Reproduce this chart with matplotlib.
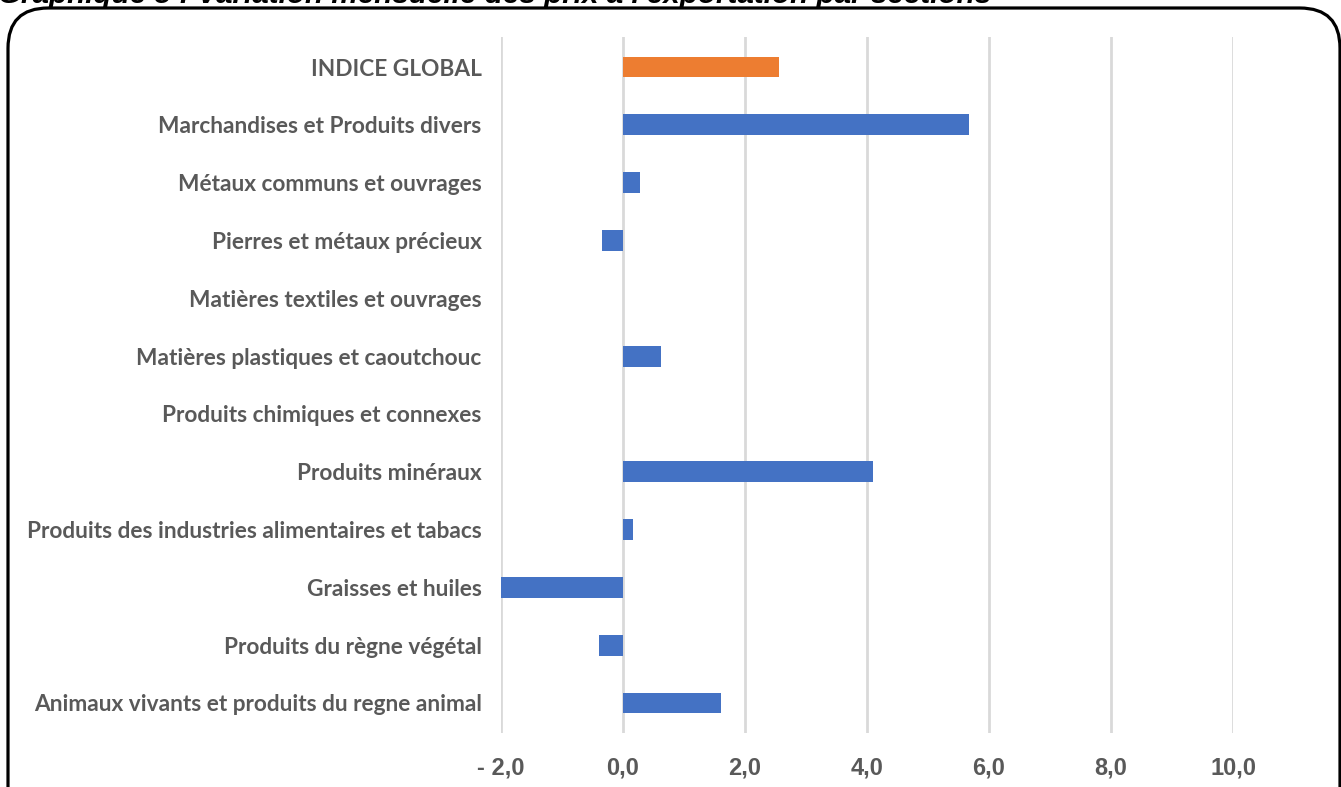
import matplotlib.pyplot as plt
from matplotlib.patches import FancyBboxPatch
import numpy as np

W, H = 1341, 787

categories = [
    "INDICE GLOBAL",
    "Marchandises et Produits divers",
    "Métaux communs et ouvrages",
    "Pierres et métaux précieux",
    "Matières textiles et ouvrages",
    "Matières plastiques et caoutchouc",
    "Produits chimiques et connexes",
    "Produits minéraux",
    "Produits des industries alimentaires et tabacs",
    "Graisses et huiles",
    "Produits du règne végétal",
    "Animaux vivants et produits du regne animal",
]
values = [2.56, 5.67, 0.28, -0.34, 0.0, 0.62, 0.0, 4.10, 0.16, -2.02, -0.40, 1.60]
colors = ["#ED7D31"] + ["#4472C4"] * 11
xticks = [-2, 0, 2, 4, 6, 8, 10]
xtick_labels = ["- 2,0", "0,0", "2,0", "4,0", "6,0", "8,0", "10,0"]

fig = plt.figure(figsize=(W / 100, H / 100), dpi=100)

# rounded frame around the chart
frame = FancyBboxPatch((8 / W, -40 / H), (1340 - 8) / W, (H - 8 + 40) / H,
                       boxstyle="round,pad=0,rounding_size=0.03",
                       transform=fig.transFigure, fill=False,
                       edgecolor="black", linewidth=2.3, mutation_aspect=W / H)
fig.patches.append(frame)

# title, cut off at the top of the image
fig.text(-2 / W, 1 - 3 / H, "Graphique 5 : Variation mensuelle des prix à l'exportation par sections",
         ha="left", va="baseline", fontsize=21.3, fontweight="bold", fontstyle="italic",
         family="Liberation Sans", color="black")

ax = fig.add_axes([501 / W, 1 - 733 / H, (1233 - 501) / W, (733 - 37) / H])
y = np.arange(len(categories))
ax.barh(y, values, height=0.36, color=colors, zorder=3)
ax.set_ylim(len(categories) - 0.5 + 0.02, -0.5 - 0.02)
ax.set_xlim(-2, 10)
ax.set_xticks(xticks)
ax.set_xticklabels(xtick_labels, fontsize=17, fontweight="bold",
                   family="Liberation Sans", color="#595959")
ax.set_yticks(y)
ax.set_yticklabels(categories, fontsize=16.3, fontweight="bold",
                   family="Lato", color="#595959")
ax.tick_params(axis="both", length=0)
ax.tick_params(axis="x", pad=17)
ax.tick_params(axis="y", pad=14)
ax.grid(axis="x", color="#D9D9D9", linewidth=2, zorder=0)
for s in ax.spines.values():
    s.set_visible(False)

fig.savefig("out.png", dpi=100)
